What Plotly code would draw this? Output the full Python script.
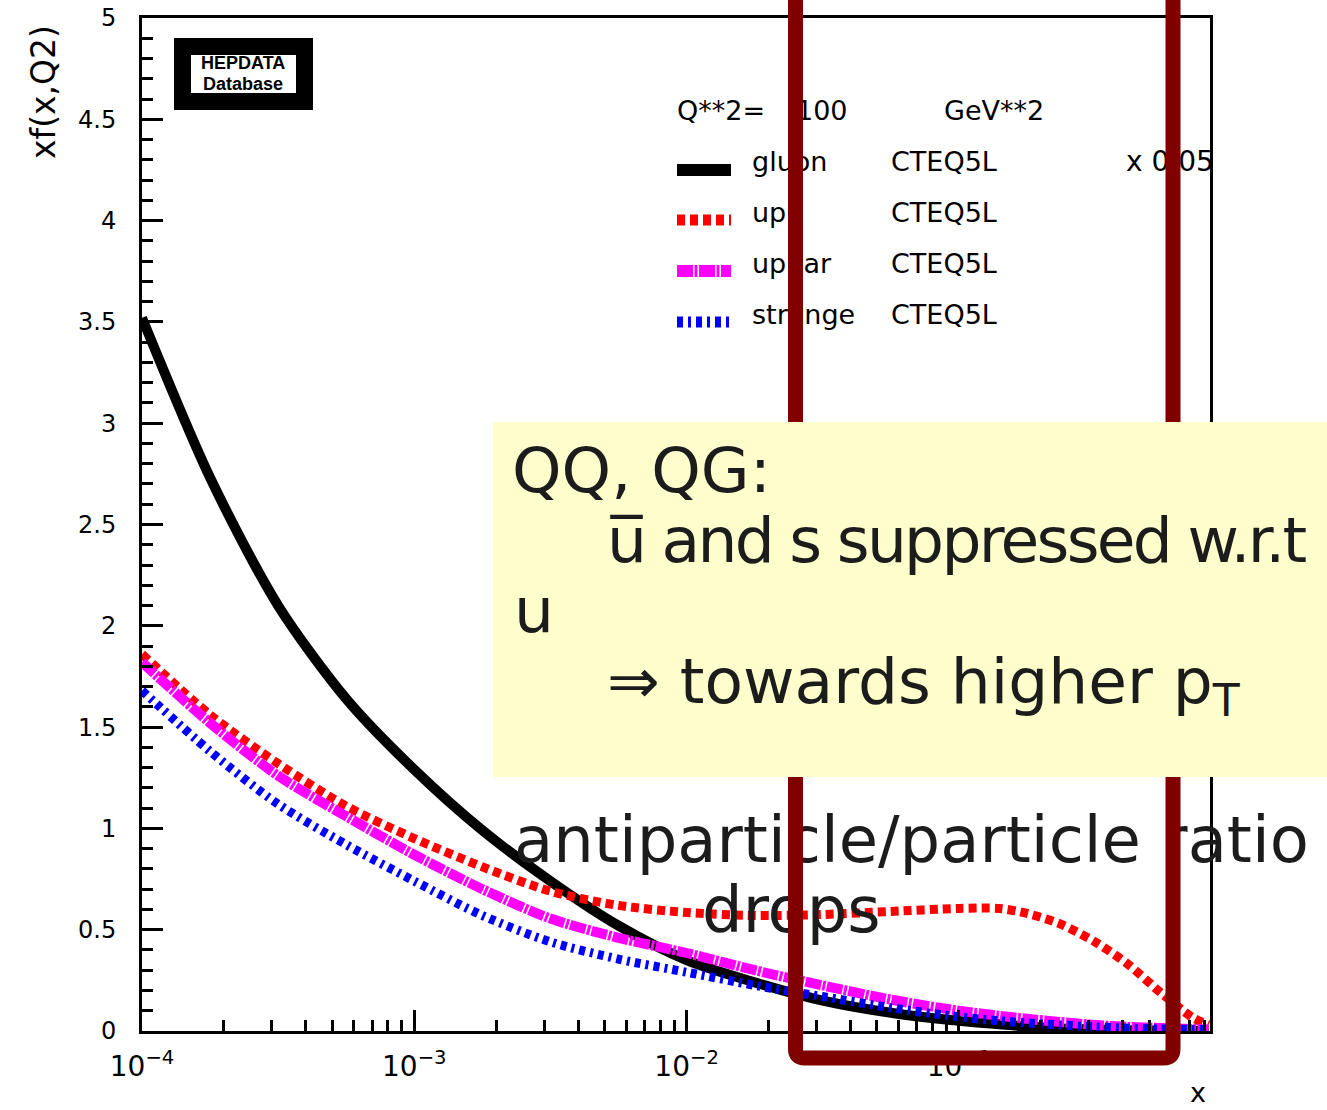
import plotly.graph_objects as go

# Parton distributions xf(x, Q^2) at Q^2 = 100 GeV^2, CTEQ5L (gluon scaled by 0.05)
x_vals = [0.0001, 0.000178, 0.000316, 0.000562, 0.001, 0.00178, 0.00316, 0.00562,
          0.01, 0.0178, 0.0316, 0.0562, 0.1, 0.141, 0.178, 0.234, 0.316, 0.417,
          0.55, 0.724, 0.826]
gluon_x005 = [3.52, 2.73, 2.10, 1.64, 1.29, 0.99, 0.74, 0.52, 0.35, 0.24, 0.15, 0.09,
              0.05, 0.033, 0.022, 0.013, 0.007, 0.004, 0.002, 0.001, 0.0005]
up = [1.86, 1.56, 1.32, 1.11, 0.95, 0.81, 0.69, 0.62, 0.585, 0.57, 0.575, 0.59,
      0.605, 0.605, 0.58, 0.53, 0.44, 0.33, 0.19, 0.065, 0.03]
upbar = [1.82, 1.52, 1.26, 1.06, 0.87, 0.70, 0.555, 0.46, 0.385, 0.30, 0.225, 0.155,
         0.10, 0.075, 0.06, 0.045, 0.03, 0.02, 0.015, 0.01, 0.008]
strange = [1.68, 1.38, 1.12, 0.92, 0.74, 0.57, 0.44, 0.355, 0.29, 0.225, 0.17, 0.115,
           0.07, 0.05, 0.04, 0.03, 0.02, 0.014, 0.01, 0.008, 0.007]

series = [
    ("gluon", gluon_x005, "#000000", "solid", 10),
    ("up", up, "#FF0000", "8px,5px", 9),
    ("upbar", upbar, "#FF00FF", "16px,1.5px,3px,1.5px", 10),
    ("strange", strange, "#0000FF", "6px,5px,3px,5px", 9),
]

x_ticks = [1e-4, 1e-3, 1e-2, 1e-1]
x_ticktext = ["10<sup>\u22124</sup>", "10<sup>\u22123</sup>",
              "10<sup>\u22122</sup>", "10<sup>\u22121</sup>"]
y_ticks = [0, 0.5, 1, 1.5, 2, 2.5, 3, 3.5, 4, 4.5, 5]
y_ticktext = ["0", "0.5", "1", "1.5", "2", "2.5", "3", "3.5", "4", "4.5", "5"]

W, H = 1327, 1110
L, R, T, B = 142, 1210, 18, 1031


def px(xp):
    return (xp - L) / (R - L)


def py(yp):
    return (B - yp) / (B - T)


fig = go.Figure()
for name, ys, color, dash, width in series:
    fig.add_trace(go.Scatter(
        x=x_vals, y=ys, mode="lines", name=name,
        line=dict(color=color, dash=dash, width=width, shape="spline", smoothing=0.8),
        showlegend=False,
    ))

root_font = "DejaVu Sans"
ann = []
shapes = []

# HEPDATA badge
shapes.append(dict(type="rect", xref="paper", yref="paper", layer="above",
                   x0=px(174), x1=px(313), y0=py(110), y1=py(38),
                   fillcolor="black", line=dict(width=0)))
shapes.append(dict(type="rect", xref="paper", yref="paper", layer="above",
                   x0=px(191), x1=px(296), y0=py(93), y1=py(55),
                   fillcolor="white", line=dict(width=0)))
ann.append(dict(text="<b>HEPDATA</b>", x=px(243), y=py(63)))
ann.append(dict(text="<b>Database</b>", x=px(243), y=py(84)))
for a in ann:
    a.update(xref="paper", yref="paper", showarrow=False, xanchor="center", yanchor="middle",
             font=dict(family="Liberation Sans Narrow, Liberation Sans", size=18, color="black"))


# text drawn as a shape label so that later shapes can sit on top of it
def label_text(txt, xp, yc, size, family, color="black"):
    xp -= 2
    yc -= 3
    shapes.append(dict(type="rect", xref="paper", yref="paper", layer="above",
                       x0=px(xp), x1=px(xp + 10), y0=py(yc + 2), y1=py(yc - 2),
                       fillcolor="rgba(0,0,0,0)", line=dict(width=0),
                       label=dict(text=txt, textposition="middle left", padding=0,
                                  font=dict(family=family, size=size, color=color))))


# key block
label_text("Q**2=", 676, 111, 27, root_font)
label_text("100", 795, 111, 27, root_font)
label_text("GeV**2", 943, 111, 27, root_font)
row_y = [162, 213, 264, 315]
sample_y = [170, 220, 271, 322]
for (name, ys, color, dash, width), ty, sy in zip(series, row_y, sample_y):
    label_text(name, 751, ty, 27, root_font)
    label_text("CTEQ5L", 890, ty, 27, root_font)
    shapes.append(dict(type="line", xref="paper", yref="paper", layer="above",
                       x0=px(677), x1=px(731), y0=py(sy), y1=py(sy),
                       line=dict(color=color, width=width + 2, dash=dash)))
label_text("x 0.05", 1125, row_y[0], 28, root_font)

# lower comment
note_font = "DejaVu Sans"
label_text("antiparticle/particle ratio", 513, 838, 64, note_font, "#1c1c1c")
label_text("drops", 701, 908, 64, note_font, "#1c1c1c")

# axis titles
ann.append(dict(text="xf(x,Q2)", x=px(43), y=py(92), xref="paper", yref="paper",
                showarrow=False, textangle=-90, xanchor="center", yanchor="middle",
                font=dict(family=root_font, size=33, color="black")))
ann.append(dict(text="x", x=px(1198), y=py(1109), xref="paper", yref="paper",
                showarrow=False, xanchor="center", yanchor="bottom", borderpad=0,
                font=dict(family=root_font, size=27, color="black")))

# highlight frame around the large-x region
r = 9
xl, xr, yb, yt = 795.5, 1173, 1058, -30
path = (f"M {px(xl)},{py(yt)} L {px(xl)},{py(yb - r)} "
        f"Q {px(xl)},{py(yb)} {px(xl + r)},{py(yb)} "
        f"L {px(xr - r)},{py(yb)} Q {px(xr)},{py(yb)} {px(xr)},{py(yb - r)} "
        f"L {px(xr)},{py(yt)}")
shapes.append(dict(type="path", xref="paper", yref="paper", layer="above", path=path,
                   line=dict(color="#800000", width=15)))

# note box
shapes.append(dict(type="rect", xref="paper", yref="paper", layer="above",
                   x0=px(493), x1=px(1340), y0=py(777), y1=py(422),
                   fillcolor="#FEFECC", line=dict(width=0)))

note_size = 63


def note(txt, xp, baseline, size=note_size):
    ann.append(dict(text=txt, x=px(xp), y=py(baseline - 0.93 * size), xref="paper", yref="paper",
                    showarrow=False, xanchor="left", yanchor="top", borderpad=0,
                    font=dict(family=note_font, size=size, color="#1c1c1c")))


note("QQ, QG:", 511, 492)
note("<span style='letter-spacing:-2.7px'>u\u0305 and s suppressed w.r.t</span>", 606, 562)
note("u", 513, 632)
note("\u21d2 towards higher p<sub>T</sub>", 606, 703)

minor_x = [m * 10.0 ** e for e in range(-4, 0) for m in range(2, 10) if m * 10.0 ** e < 0.83]

fig.update_layout(
    width=W, height=H,
    margin=dict(l=L, r=W - R, t=T, b=H - B, pad=0),
    paper_bgcolor="white", plot_bgcolor="white",
    showlegend=False,
    annotations=ann,
    shapes=shapes,
    xaxis=dict(
        type="log", range=[-4, -0.078], automargin=False,
        tickmode="array", tickvals=x_ticks, ticktext=x_ticktext,
        ticks="inside", ticklen=21, tickwidth=3, tickcolor="black",
        minor=dict(tickmode="array", tickvals=minor_x, ticks="inside",
                   ticklen=11, tickwidth=3, tickcolor="black", showgrid=False),
        showline=True, mirror=True, linewidth=3, linecolor="black",
        showgrid=False, zeroline=False,
        tickfont=dict(family=root_font, size=28, color="black"),
        ticklabelstandoff=8,
    ),
    yaxis=dict(
        range=[0, 5], automargin=False,
        tickmode="array", tickvals=y_ticks, ticktext=y_ticktext,
        ticks="inside", ticklen=21, tickwidth=3, tickcolor="black",
        minor=dict(dtick=0.1, ticks="inside", ticklen=11, tickwidth=3,
                   tickcolor="black", showgrid=False),
        showline=True, mirror=True, linewidth=3, linecolor="black",
        showgrid=False, zeroline=False,
        tickfont=dict(family=root_font, size=24, color="black"),
        ticklabelstandoff=18,
    ),
)

fig.write_html("out.html")
